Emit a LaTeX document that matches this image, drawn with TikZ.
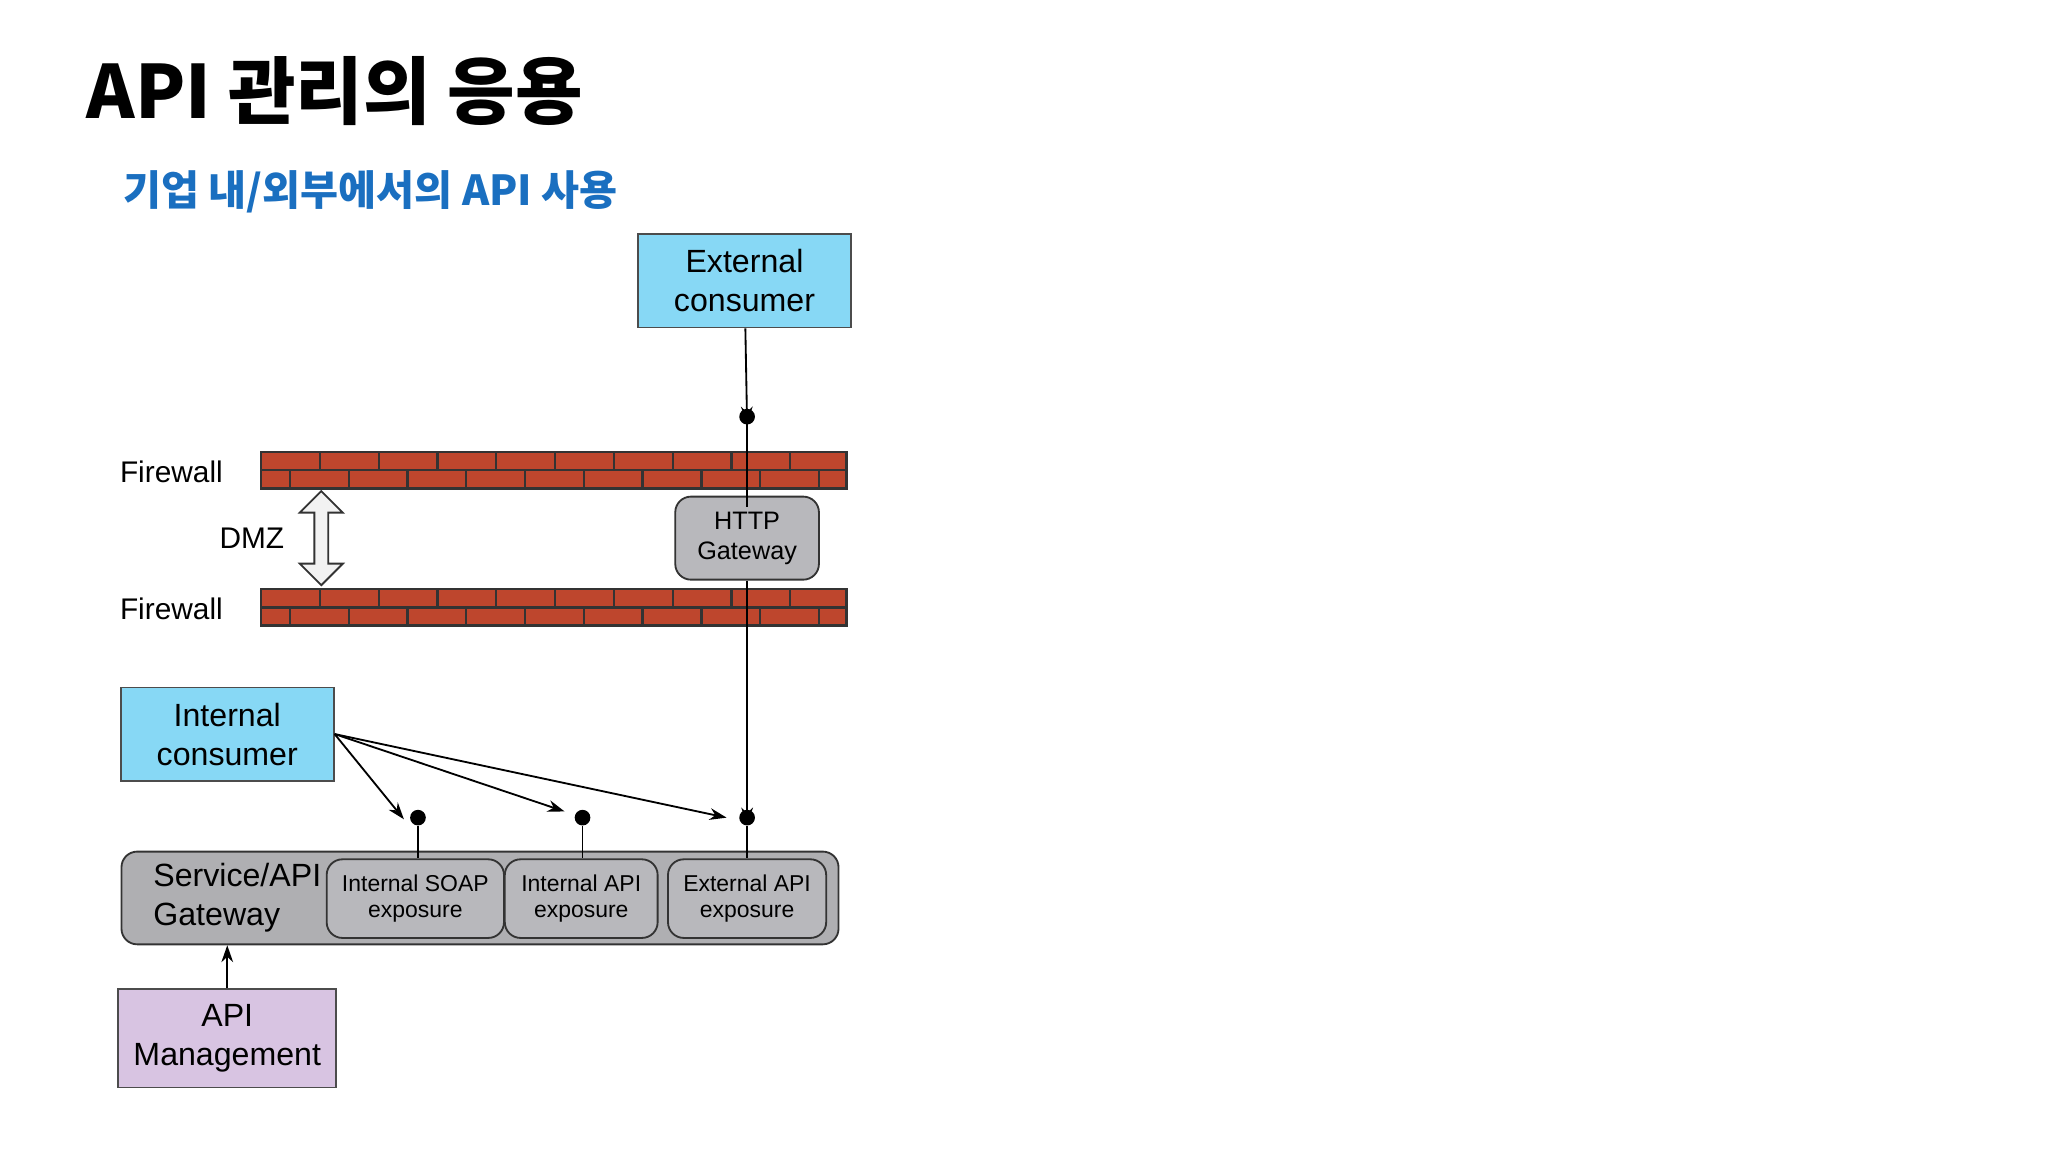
\documentclass[tikz,border=0pt]{standalone}
\usepackage{fontspec}
\setmainfont{Liberation Sans}
\newfontfamily\cjk{Noto Sans CJK KR}
\usetikzlibrary{shapes.arrows, arrows.meta, positioning}
\definecolor{consumerblue}{RGB}{135,216,245}
\definecolor{gwgray}{RGB}{184,184,188}
\definecolor{mgmtpurple}{RGB}{216,196,226}
\definecolor{brick}{RGB}{190,70,45}
\definecolor{titleblue}{RGB}{26,111,192}
\tikzset{
  consumer/.style = {rectangle, draw=black!70, fill=consumerblue, minimum width=16.3mm, minimum height=7.1mm, align=center, font=\fontsize{7}{8.5}\selectfont},
  gwbox/.style = {rectangle, rounded corners=1.2mm, draw=black!80, fill=gwgray, align=center},
  expo/.style = {gwbox, minimum width=11.7mm, minimum height=4.8mm, font=\fontsize{5}{5.8}\selectfont},
  dot/.style = {circle, fill=black, inner sep=0pt, minimum size=1.2mm},
  arrow/.style = {-{Stealth[length=1.3mm,width=0.9mm]}, thin},
  conn/.style = {thin}
}
\newcommand{\firewall}[1]{%
  \fill[brick] (200,#1) rectangle (648,#1+28);
  \draw[black!80, line width=0.5pt] (200,#1) rectangle (648,#1+28) (200,#1+14) -- (648,#1+14);
  \foreach \bx in {245,290,...,640} \draw[black!80, line width=0.5pt] (\bx,#1) -- (\bx,#1+14);
  \foreach \bx in {222,267,...,640} \draw[black!80, line width=0.5pt] (\bx,#1+14) -- (\bx,#1+28);
}
\begin{document}
\begin{tikzpicture}[x=0.1mm, y=-0.1mm]
\useasboundingbox (0,0) rectangle (1568,882);

% Titles
\node[anchor=west, font=\cjk\bfseries\fontsize{16}{19}\selectfont] (title) at (54,70) {API 관리의 응용};
\node[anchor=west, font=\cjk\bfseries\fontsize{9}{11}\selectfont, text=titleblue] (subtitle) at (82,147) {기업 내/외부에서의 API 사용};

% Firewalls
\firewall{346}
\firewall{451}
\node[anchor=east, font=\fontsize{6.5}{8}\selectfont] (fw1) at (183,361) {Firewall};
\node[anchor=east, font=\fontsize{6.5}{8}\selectfont] (fw2) at (183,466) {Firewall};
\node[double arrow, shape border rotate=90, draw=black!80, fill=black!5, minimum height=7.2mm, minimum width=3.3mm, double arrow head extend=1mm, inner sep=0.4mm] (dmz) at (246,412) {};
\node[anchor=east, font=\fontsize{6.5}{8}\selectfont] (dmzlabel) at (230,412) {DMZ};

% Nodes
\node[consumer] (external) at (570,215) {External\\consumer};
\node[dot] (d0) at (572,319) {};
\node[gwbox, minimum width=11mm, minimum height=4.9mm, font=\fontsize{5.5}{6.5}\selectfont] (http) at (572,412) {HTTP\\Gateway};
\node[consumer] (internal) at (174,562) {Internal\\consumer};
\node[gwbox, fill=gwgray!90!black!90, minimum width=54.9mm, minimum height=7.1mm] (service) at (367.5,687.5) {};
\node[anchor=west, align=left, font=\fontsize{7}{8.5}\selectfont] (servicelabel) at (105,687) {Service/API\\Gateway};
\node[expo] (soap) at (318,688) {Internal SOAP\\exposure};
\node[expo] (intapi) at (445,688) {Internal API\\exposure};
\node[expo] (extapi) at (572,688) {External API\\exposure};
\node[dot] (d1) at (320,626) {};
\node[dot] (d2) at (446,626) {};
\node[dot] (d3) at (572,626) {};
\node[consumer, fill=mgmtpurple] (mgmt) at (174,795) {API\\Management};

% Arrows
\draw[arrow] (external) -- ([yshift=-1.2mm]d0.north);
\draw[conn] (d0) -- (http);
\draw[conn] (http) -- (572,500);
\draw[arrow] (572,500) -- ([yshift=-1.2mm]d3.north);
\draw[conn] (572,319) -- (572,388);
\draw[arrow] (internal.east) -- ([shift={(-0.6mm,-0.6mm)}]d1.north west);
\draw[arrow] (internal.east) -- ([xshift=-0.9mm]d2.north west);
\draw[arrow] (internal.east) -- ([xshift=-0.9mm]d3.west);
\draw[conn] (d1) -- (d1 |- soap.north);
\draw[conn] (d2) -- (d2 |- intapi.north);
\draw[conn] (d3) -- (extapi);
\draw[arrow] (mgmt) -- (mgmt |- service.south);

\end{tikzpicture}
\end{document}
